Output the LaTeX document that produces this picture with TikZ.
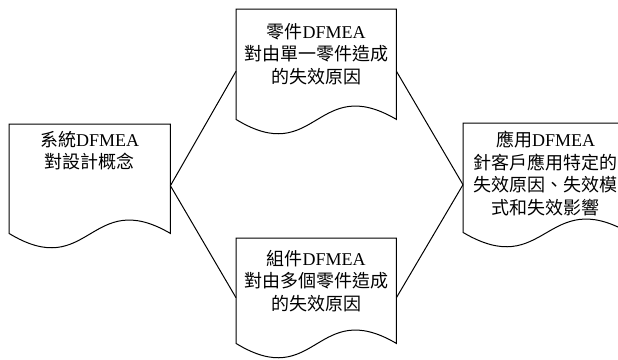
\documentclass[tikz,border=0pt]{standalone}
\usepackage{fontspec}
\setmainfont{Liberation Serif}
\newfontfamily\cjk{Noto Sans CJK TC}
\usetikzlibrary{calc}
\newcommand\docshape[1]{%
\draw [line width=1pt] ($(#1.south west)+(0,-14)$) -- (#1.north west) -- (#1.north east)
  -- ($(#1.south east)+(0,-14)$) .. controls ($(#1.south)+(0,-61)$) and ($(#1.south)+(0,35)$)
  .. ($(#1.south west)+(0,-14)$) -- cycle;}
\begin{document}
\begin{tikzpicture}[x=1pt,y=-1pt,
doc node/.style={draw=none,rectangle,inner sep=0pt,anchor=north west},
label text/.style={anchor=north,align=center,inner sep=0pt,
  font=\fontsize{18}{22.5}\selectfont}]
\useasboundingbox (0,0) rectangle (618,359);

\node[doc node,minimum width=161pt,minimum height=123pt] (sys) at (9,124) {};
\node[doc node,minimum width=160pt,minimum height=124pt] (part) at (236,9) {};
\node[doc node,minimum width=160pt,minimum height=119pt] (assy) at (236,238) {};
\node[doc node,minimum width=165pt,minimum height=123pt] (appl) at (463,123) {};

\docshape{sys}
\docshape{part}
\docshape{assy}
\docshape{appl}

\node[label text] (systxt) at ([yshift=-7pt]sys.north) {{\cjk 系統}DFMEA\\{\cjk 對設計概念}};
\node[label text] (parttxt) at ([yshift=-14pt]part.north) {{\cjk 零件}DFMEA\\{\cjk 對由單一零件造成}\\{\cjk 的失效原因}};
\node[label text] (assytxt) at ([yshift=-12pt]assy.north) {{\cjk 組件}DFMEA\\{\cjk 對由多個零件造成}\\{\cjk 的失效原因}};
\node[label text] (appltxt) at ([yshift=-8pt]appl.north) {{\cjk 應用}DFMEA\\{\cjk 針客戶應用特定的}\\{\cjk 失效原因、失效模}\\{\cjk 式和失效影響}};

\draw [-,line width=1pt] (sys.east) -- (part.west);
\draw [-,line width=1pt] (sys.east) -- (assy.west);
\draw [-,line width=1pt] (part.east) -- (appl.west);
\draw [-,line width=1pt] (assy.east) -- (appl.west);

\end{tikzpicture}
\end{document}
